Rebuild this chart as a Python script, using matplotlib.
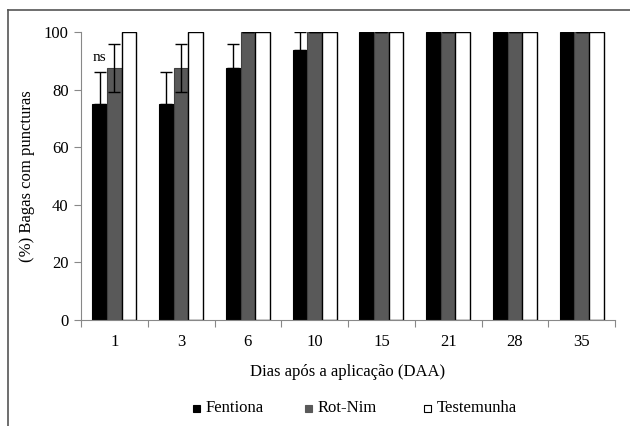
import matplotlib
matplotlib.use("Agg")
from matplotlib import pyplot as plt
from matplotlib.patches import Rectangle
from matplotlib.lines import Line2D
import numpy as np

plt.rcParams['font.family'] = 'serif'
plt.rcParams['font.serif'] = ['Liberation Serif', 'DejaVu Serif']

dias = ['1', '3', '6', '10', '15', '21', '28', '35']
fentiona = [75, 75, 87.5, 93.75, 100, 100, 100, 100]
rotnim = [87.5, 87.5, 100, 100, 100, 100, 100, 100]
testemunha = [100, 100, 100, 100, 100, 100, 100, 100]
err_fentiona = [11, 11, 8.3, 6.25, 0, 0, 0, 0]
err_rotnim = [8.3, 8.3, 0, 0, 0, 0, 0, 0]
series = ['Fentiona', 'Rot-Nim', 'Testemunha']

fig = plt.figure(figsize=(6.3, 4.26), dpi=100)
ax = fig.add_axes([0.1286, 0.2488, 0.8476, 0.6761])

x = np.arange(len(dias)) + 0.5
w = 0.22
ax.bar(x - w, fentiona, w, color='black', edgecolor='black', linewidth=0.8,
       yerr=[np.zeros(len(dias)), err_fentiona], capsize=4,
       error_kw=dict(ecolor='black', elinewidth=1, capthick=1))
ax.bar(x, rotnim, w, color='#595959', edgecolor='#404040', linewidth=0.8,
       yerr=err_rotnim, capsize=4,
       error_kw=dict(ecolor='black', elinewidth=1, capthick=1))
ax.bar(x + w, testemunha, w, color='white', edgecolor='black', linewidth=1)

ax.text(x[0] - w, 89, 'ns', ha='center', va='bottom', fontsize=11)

ax.set_xlim(0, len(dias))
ax.set_ylim(0, 100)
ax.set_yticks([0, 20, 40, 60, 80, 100])
ax.set_xticks(np.arange(len(dias) + 1))
ax.set_xticklabels([])
ax.set_xticks(x, minor=True)
ax.set_xticklabels(dias, minor=True)
ax.tick_params(axis='x', which='minor', length=0, pad=10, labelsize=12)
ax.tick_params(axis='x', which='major', length=5, color='#888888', direction='out')
ax.tick_params(axis='y', length=5, color='#888888', labelsize=12, pad=4)
for s in ['top', 'right']:
    ax.spines[s].set_visible(False)
for s in ['left', 'bottom']:
    ax.spines[s].set_color('#888888')

ax.set_ylabel('(%) Bagas com puncturas', fontsize=12, labelpad=6)
ax.set_xlabel('Dias após a aplicação (DAA)', fontsize=12, labelpad=10)

# legend drawn by hand to keep the original spacing
leg_x = [193, 305, 424]
leg_colors = [('black', 'black'), ('#595959', '#595959'), ('white', 'black')]
for lx, (fc, ec), name in zip(leg_x, leg_colors, series):
    fig.add_artist(Rectangle((lx / 630, (426 - 412) / 426), 7 / 630, 7 / 426,
                             facecolor=fc, edgecolor=ec, linewidth=0.8))
    fig.text((lx + 13) / 630, (426 - 408) / 426, name, fontsize=12,
             va='center', ha='left')

# outer frame (cropped at the right and bottom)
fig.add_artist(Line2D([8/630, 1], [1 - 10/426, 1 - 10/426], color='#555555', lw=1.2))
fig.add_artist(Line2D([8/630, 8/630], [0, 1 - 10/426], color='#555555', lw=1.2))

fig.savefig('out.png', dpi=100)
